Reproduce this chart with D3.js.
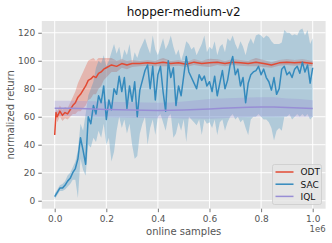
<!DOCTYPE html>
<html>
<head>
<meta charset="utf-8">
<script src="https://cdn.jsdelivr.net/npm/d3@7"></script>
<style>
  body { margin: 0; background: #fff; }
  svg { display: block; font-family: "DejaVu Sans", sans-serif; }
</style>
</head>
<body>
<div id="chart"></div>
<script>
// colours (ggplot style)
var bg = '#E5E5E5';
var odtColor = '#E24A33';
var sacColor = '#348ABD';
var iqlColor = '#988ED5';
var tickColor = '#555555';

// ---- data (x in units of 1e6 online samples) ----
var odtT = [0, 0.005, 0.01, 0.02, 0.03, 0.04, 0.05, 0.06, 0.07, 0.08, 0.09, 0.1, 0.11, 0.12, 0.13, 0.14, 0.15, 0.16, 0.17, 0.18, 0.19, 0.2,
  0.22, 0.24, 0.26, 0.28, 0.3, 0.33, 0.36, 0.39, 0.42, 0.45, 0.48, 0.51, 0.54, 0.57, 0.6, 0.63, 0.66, 0.69, 0.72, 0.75, 0.78, 0.81, 0.84, 0.87, 0.9, 0.93, 0.96, 1.0];
var odtMean = [47, 63, 60, 64, 61, 63, 62, 65, 68, 70, 74, 76, 79, 82, 86, 87, 89, 88, 91, 92, 94, 95,
  97, 96, 98, 97, 98, 98, 98.5, 98, 99, 98, 98.5, 97.5, 99, 98, 98.5, 99, 98, 99, 98.5, 98, 99, 98, 97, 98.5, 99, 98.5, 99, 98];
var odtSpread = [0, 3, 4, 4, 4, 4, 4, 5, 6, 8, 10, 12, 13, 14, 14, 14, 13, 12, 11, 10, 8, 7,
  5, 4, 3, 3, 2.5, 2, 2, 2, 3, 2, 2, 2, 2, 2, 3, 2, 2, 2, 2, 2, 3, 2.5, 2, 2, 2, 2, 2, 2];

var sacT = d3.range(0, 101).map(function (i) { return i / 100; });
var sacMean = [3, 6, 9, 9, 11, 14, 16, 20, 23, 30,
  45, 36, 26, 60, 55, 68, 62, 75, 70, 82,
  58, 72, 65, 80, 76, 89, 78, 88, 66, 82,
  71, 85, 60, 79, 86, 93, 97, 80, 96, 72,
  90, 96, 78, 64, 100, 88, 95, 68, 82, 75,
  89, 103, 92, 88, 84, 80, 90, 86, 89, 82,
  85, 78, 89, 75, 84, 93, 80, 86, 97, 103,
  90, 94, 82, 88, 70, 84, 90, 92, 93, 96,
  90, 94, 88, 85, 79, 88, 76, 80, 94, 96,
  90, 92, 88, 94, 96, 91, 99, 92, 97, 84, 95];
var sacHi = [5, 8, 11, 12, 14, 18, 20, 24, 28, 36,
  55, 50, 62, 75, 80, 85, 95, 100, 98, 104,
  96, 100, 106, 112, 105, 110, 100, 108, 104, 112,
  98, 106, 102, 108, 112, 116, 110, 105, 118, 108,
  104, 110, 116, 108, 112, 118, 110, 104, 108, 100,
  106, 114, 112, 108, 110, 104, 108, 112, 118, 106,
  110, 108, 114, 104, 110, 112, 106, 116, 114, 118,
  112, 108, 114, 110, 104, 112, 116, 112, 118, 119,
  118, 116, 118, 117, 114, 112, 112, 112, 113, 122,
  120, 120, 118, 119, 118, 122, 123, 118, 122, 112, 116];
var sacLo = [1, 4, 7, 7, 8, 10, 12, 15, 15, 2,
  30, 22, 18, 40, 38, 45, 42, 50, 45, 55,
  40, 45, 28, 35, 50, 60, 52, 58, 48, 55,
  40, 30, 32, 48, 55, 60, 40, 52, 58, 47,
  60, 62, 56, 50, 60, 62, 45, 48, 56, 50,
  58, 42, 60, 58, 56, 54, 58, 47, 58, 55,
  56, 52, 58, 47, 56, 58, 50, 56, 60, 62,
  58, 60, 56, 58, 52, 47, 58, 60, 60, 62,
  60, 58, 58, 56, 52, 43, 50, 52, 50, 60,
  60, 62, 58, 60, 62, 60, 62, 60, 62, 58, 60];

var iqlT = d3.range(0, 21).map(function (i) { return i / 20; });
var iqlMean = [66, 66, 65.8, 65.5, 65.2, 65, 64.8, 64.6, 64.5, 64.6, 64.8, 65.2, 65.6, 66, 66.4, 66.8, 67, 67, 66.6, 66.2, 65.8];
var iqlSpread = [5.5, 5.5, 5.5, 5.5, 5.5, 5.5, 5.5, 5.5, 5.5, 5.5, 6, 6.5, 7, 7, 7, 7, 7, 7, 6.5, 6.5, 6];

var xTicks = [0, 0.2, 0.4, 0.6, 0.8, 1.0];
var yTicks = [0, 20, 40, 60, 80, 100, 120];
var seriesNames = ['ODT', 'SAC', 'IQL'];

// ---- build series ----
function build(t, mean, lo, hi) {
  return t.map(function (d, i) { return { t: d, m: mean[i], lo: lo[i], hi: hi[i] }; });
}
var odt = build(odtT, odtMean,
  odtMean.map(function (m, i) { return m - odtSpread[i]; }),
  odtMean.map(function (m, i) { return m + odtSpread[i]; }));
var sac = build(sacT, sacMean, sacLo, sacHi);
var iql = build(iqlT, iqlMean,
  iqlMean.map(function (m, i) { return m - iqlSpread[i]; }),
  iqlMean.map(function (m, i) { return m + iqlSpread[i]; }));

var series = [
  { name: seriesNames[0], color: odtColor, data: odt },
  { name: seriesNames[1], color: sacColor, data: sac },
  { name: seriesNames[2], color: iqlColor, data: iql }
];

var width = 332, height = 243;
var pLeft = 41.8, pRight = 325.6, pTop = 21, pBottom = 208.7;

var svg = d3.select('#chart').append('svg')
  .attr('width', width).attr('height', height);

var x = d3.scaleLinear().domain([-0.05, 1.05]).range([pLeft, pRight]);
var y = d3.scaleLinear().domain([-5.7, 128.4]).range([pBottom, pTop]);

svg.append('rect')
  .attr('x', pLeft).attr('y', pTop)
  .attr('width', pRight - pLeft).attr('height', pBottom - pTop)
  .attr('fill', bg);

// grid
svg.append('g').selectAll('line').data(xTicks).enter().append('line')
  .attr('x1', function (d) { return x(d); }).attr('x2', function (d) { return x(d); })
  .attr('y1', pTop).attr('y2', pBottom)
  .attr('stroke', '#fff').attr('stroke-width', 1);
svg.append('g').selectAll('line').data(yTicks).enter().append('line')
  .attr('y1', function (d) { return y(d); }).attr('y2', function (d) { return y(d); })
  .attr('x1', pLeft).attr('x2', pRight)
  .attr('stroke', '#fff').attr('stroke-width', 1);

svg.append('clipPath').attr('id', 'clip')
  .append('rect').attr('x', pLeft).attr('y', pTop)
  .attr('width', pRight - pLeft).attr('height', pBottom - pTop);

var plot = svg.append('g').attr('clip-path', 'url(#clip)');

var area = d3.area()
  .x(function (d) { return x(d.t); })
  .y0(function (d) { return y(d.lo); })
  .y1(function (d) { return y(d.hi); });
var line = d3.line()
  .x(function (d) { return x(d.t); })
  .y(function (d) { return y(d.m); });

series.forEach(function (s) {
  plot.append('path').datum(s.data)
    .attr('d', area)
    .attr('fill', s.color).attr('fill-opacity', 0.3);
});
series.forEach(function (s) {
  plot.append('path').datum(s.data)
    .attr('d', line)
    .attr('fill', 'none')
    .attr('stroke', s.color).attr('stroke-width', 1.5)
    .attr('stroke-linejoin', 'round');
});

// axes
var xAxis = d3.axisBottom(x).tickValues(xTicks).tickSize(3.5).tickPadding(3)
  .tickFormat(d3.format('.1f'));
var gx = svg.append('g').attr('transform', 'translate(0,' + pBottom + ')').call(xAxis);
var yAxis = d3.axisLeft(y).tickValues(yTicks).tickSize(3.5).tickPadding(3);
var gy = svg.append('g').attr('transform', 'translate(' + pLeft + ',0)').call(yAxis);
[gx, gy].forEach(function (g) {
  g.select('.domain').remove();
  g.selectAll('.tick line').attr('stroke', tickColor).attr('stroke-width', 0.8);
  g.selectAll('.tick text').attr('fill', tickColor)
    .style('font-size', '9px').style('font-family', '"DejaVu Sans", sans-serif');
});

// texts
svg.append('text')
  .attr('x', (pLeft + pRight) / 2).attr('y', 16)
  .attr('text-anchor', 'middle')
  .style('font-size', '12px').attr('fill', '#111')
  .text('hopper-medium-v2');
svg.append('text')
  .attr('x', (pLeft + pRight) / 2).attr('y', 234.5)
  .attr('text-anchor', 'middle')
  .style('font-size', '10px').attr('fill', tickColor)
  .text('online samples');
svg.append('text')
  .attr('transform', 'translate(14,' + ((pTop + pBottom) / 2) + ') rotate(-90)')
  .attr('text-anchor', 'middle')
  .style('font-size', '10px').attr('fill', tickColor)
  .text('normalized return');
svg.append('text')
  .attr('x', pRight).attr('y', 232)
  .attr('text-anchor', 'end')
  .style('font-size', '8.5px').attr('fill', tickColor)
  .text('1e6');

// legend
var lg = svg.append('g').attr('transform', 'translate(272.5,164.5)');
lg.append('rect')
  .attr('width', 49).attr('height', 40).attr('rx', 2)
  .attr('fill', bg).attr('fill-opacity', 0.8)
  .attr('stroke', '#CCCCCC').attr('stroke-width', 0.8);
series.forEach(function (s, i) {
  var yy = 7.5 + i * 12.2;
  lg.append('line')
    .attr('x1', 3).attr('x2', 21).attr('y1', yy).attr('y2', yy)
    .attr('stroke', s.color).attr('stroke-width', 1.5);
  lg.append('text')
    .attr('x', 28).attr('y', yy + 3.3)
    .style('font-size', '9px').attr('fill', '#111')
    .text(s.name);
});
</script>
</body>
</html>
